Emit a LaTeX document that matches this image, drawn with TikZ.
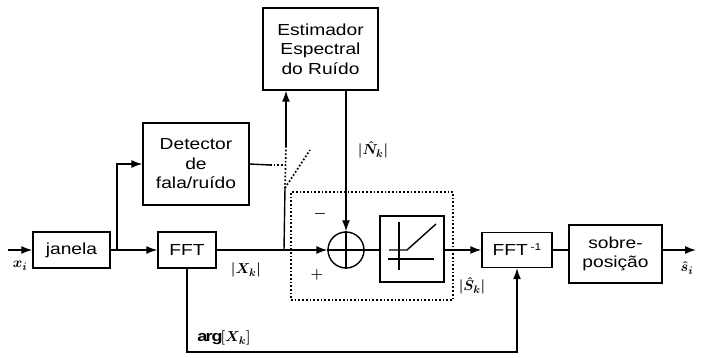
\documentclass[tikz,border=0pt]{standalone}
\usepackage{fontspec}
\setmainfont{Liberation Sans}[FakeStretch=1.2]
\usetikzlibrary{arrows.meta}
\begin{document}
\begin{tikzpicture}[x=1pt,y=-1pt, font=\fontsize{16}{19.5}\selectfont, line width=1.4pt,
 blk/.style={draw, rectangle, inner sep=0pt, align=center},
 arr/.style={-{Latex[length=11pt,width=8pt]}},
 lbl/.style={font=\fontsize{15}{17}\selectfont\boldmath},
 dots/.style={dotted, line width=1.7pt}]
\useasboundingbox (0,0) rectangle (702,358);
% blocks
\node[blk, minimum width=77pt, minimum height=36pt] (jan) at (71.5,250) {janela};
\node[blk, minimum width=58pt, minimum height=36pt] (fft) at (187,250) {FFT};
\node[blk, minimum width=106pt, minimum height=82pt] (det) at (196,164) {Detector\\de\\fala/ruído};
\node[blk, minimum width=115pt, minimum height=82pt] (est) at (320.5,49) {Estimador\\Espectral\\do Ruído};
\node[dots, draw, minimum width=162pt, minimum height=108pt, inner sep=0pt] (grp) at (372,246) {};
\node[draw, circle, minimum size=36pt, inner sep=0pt] (sum) at (346,250) {};
\draw (sum.north) -- (sum.south) (sum.west) -- (sum.east);
\node[blk, minimum width=64pt, minimum height=66pt] (nl) at (412,249) {};
\draw (399,222) -- (399,270);
\draw (388,259) -- (434,259);
\draw (389,250) -- (407,250) -- (436,224);
\node[blk, minimum width=70pt, minimum height=35pt] (ifft) at (517,250) {FFT\,\raisebox{0.6ex}{\fontsize{10}{10}\selectfont -1}};
\node[blk, minimum width=93pt, minimum height=58pt] (sob) at (615.5,254) {sobre-\\posição};
% coordinates
\coordinate (in) at (8,250);
\coordinate (br) at (117,250);
\coordinate (tap) at (284,250);
\coordinate (piv) at (285,188);
\coordinate (blade) at (310,150);
\coordinate (up) at (286,146);
\coordinate (ctl) at (285,165);
\coordinate (out) at (696,250);
% connectors
\draw[arr] (in) -- (jan.west);
\draw (jan.east) -- (br);
\draw[arr] (br) -- (fft.west);
\draw[arr] (br) |- (det.west);
\draw[arr] (fft.east) -- (sum.west);
\draw (tap) -- (piv);
\draw[dots] (piv) -- (blade);
\draw[dots] (up) -- (piv);
\draw (det.east) -- (270,165);
\draw[dots] (270,165) -- (ctl);
\draw[arr] (up) -- (up |- est.south);
\draw[arr] (est.south -| sum.north) -- (sum.north);
\draw (sum.east) -- (sum.east -| nl.west);
\draw[arr] (nl.east |- ifft.west) -- (ifft.west);
\draw (ifft.east) -- (ifft.east -| sob.west);
\draw[arr] (sob.east |- ifft.east) -- (out);
\draw[arr] (fft.south) -- (fft.south |- 0,352) -| (ifft.south);
% labels
\node[lbl] (lxi) at (20,266) {$x_i$};
\node[lbl] (lxk) at (246,270) {$|X_k|$};
\node[lbl] (lnk) at (373,150) {$|\hat N_k|$};
\node[lbl] (lsk) at (472,286) {$|\hat S_k|$};
\node[lbl] (larg) at (224,338) {$\mathrm{arg}[X_k]$};
\node[lbl] (lplus) at (317,275) {$+$};
\node[lbl] (lminus) at (320,214) {$-$};
\node[lbl] (lsi) at (687,268) {$\hat s_i$};
\end{tikzpicture}
\end{document}
